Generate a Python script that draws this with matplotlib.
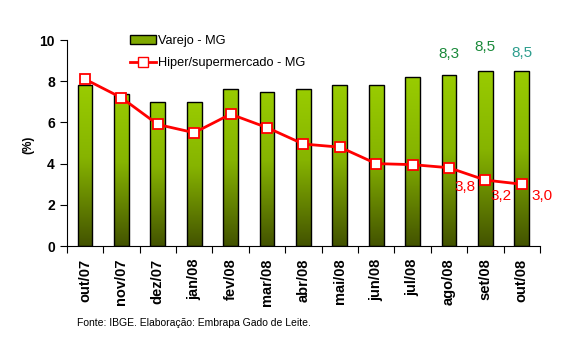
import numpy as np
import matplotlib.pyplot as plt
from matplotlib.colors import LinearSegmentedColormap
from matplotlib.lines import Line2D
from matplotlib.patches import Patch

plt.rcParams['font.family'] = ['Liberation Sans', 'DejaVu Sans']

meses = ['out/07', 'nov/07', 'dez/07', 'jan/08', 'fev/08', 'mar/08', 'abr/08',
         'mai/08', 'jun/08', 'jul/08', 'ago/08', 'set/08', 'out/08']
varejo = [7.8, 7.4, 7.0, 7.0, 7.6, 7.5, 7.6, 7.8, 7.8, 8.2, 8.3, 8.5, 8.5]
hiper = [8.1, 7.2, 5.9, 5.5, 6.4, 5.75, 4.95, 4.8, 4.0, 3.95, 3.8, 3.2, 3.0]

fig = plt.figure(figsize=(5.66, 3.42), dpi=100)
ax = fig.add_axes([0.118, 0.2807, 0.836, 0.6023])

x = np.arange(len(meses))
largura = 0.41

# barras com degradê vertical (verde claro no topo, oliva escuro na base)
cmap = LinearSegmentedColormap.from_list(
    'verde', [(0, '#435300'), (0.55, '#86B400'), (1, '#99CC00')])
grad = np.linspace(0, 1, 256).reshape(-1, 1)
barras = ax.bar(x, varejo, width=largura, facecolor='none', edgecolor='black',
                linewidth=1.0, zorder=3)
for b in barras:
    x0, y0 = b.get_x(), b.get_y()
    im = ax.imshow(grad, cmap=cmap, origin='lower', aspect='auto',
                   extent=[x0, x0 + b.get_width(), y0, y0 + b.get_height()],
                   zorder=2)
    im.set_clip_path(b)

ax.plot(x, hiper, color='#FF0000', linewidth=2, marker='s', markersize=7,
        markerfacecolor='white', markeredgecolor='#FF0000', markeredgewidth=1.3,
        zorder=4)

# rótulos dos últimos meses
cores_varejo = ['#1A8A3A', '#1A8A3A', '#2E9E8E']
desloc_varejo = [(0, 15), (0, 17), (0, 13)]
for i, c, d in zip(range(10, 13), cores_varejo, desloc_varejo):
    ax.annotate(f'{varejo[i]:.1f}'.replace('.', ','), (x[i], varejo[i]),
                xytext=d, textcoords='offset points', ha='center', va='center',
                fontsize=11, color=c)
desloc_hiper = [(11.5, -14), (11.5, -11.5), (14.5, -8.5)]
for i, d in zip(range(10, 13), desloc_hiper):
    ax.annotate(f'{hiper[i]:.1f}'.replace('.', ','), (x[i], hiper[i]),
                xytext=d, textcoords='offset points', ha='center', va='center',
                fontsize=11, color='#FF0000')

ax.set_xlim(-0.5, len(meses) - 0.5)
ax.set_ylim(0, 10)
ax.set_yticks([0, 2, 4, 6, 8, 10])
ax.set_xticks(np.arange(-0.5, len(meses)), labels=[])
ax.set_xticks(x, labels=meses, minor=True)
ax.tick_params(axis='x', which='major', length=5, direction='out')
ax.tick_params(axis='x', which='minor', length=0, rotation=90, pad=9)
ax.tick_params(axis='y', length=5, direction='out')
for lb in ax.get_xticklabels(minor=True):
    lb.set_fontweight('bold')
    lb.set_fontsize(10.5)
for lb in ax.get_yticklabels():
    lb.set_fontweight('bold')
    lb.set_fontsize(10)
for s in ['top', 'right']:
    ax.spines[s].set_visible(False)

ax.set_ylabel('(%)', fontsize=8.5, fontweight='bold')
ax.yaxis.set_label_coords(-0.068, 0.49)

handles = [Patch(facecolor='#7FA800', edgecolor='black', linewidth=1.0),
           Line2D([], [], color='#FF0000', linewidth=2, marker='s', markersize=7,
                  markerfacecolor='white', markeredgecolor='#FF0000')]
ax.legend(handles, ['Varejo - MG', 'Hiper/supermercado - MG'], loc='upper left',
          bbox_to_anchor=(0.11, 1.08), frameon=False, fontsize=9.2,
          handlelength=2.0, handletextpad=0.15, labelspacing=0.8)

fig.text(0.136, 0.0556, 'Fonte: IBGE. Elaboração: Embrapa Gado de Leite.',
         fontsize=7.5, va='center')

fig.savefig('out.png', dpi=100)
